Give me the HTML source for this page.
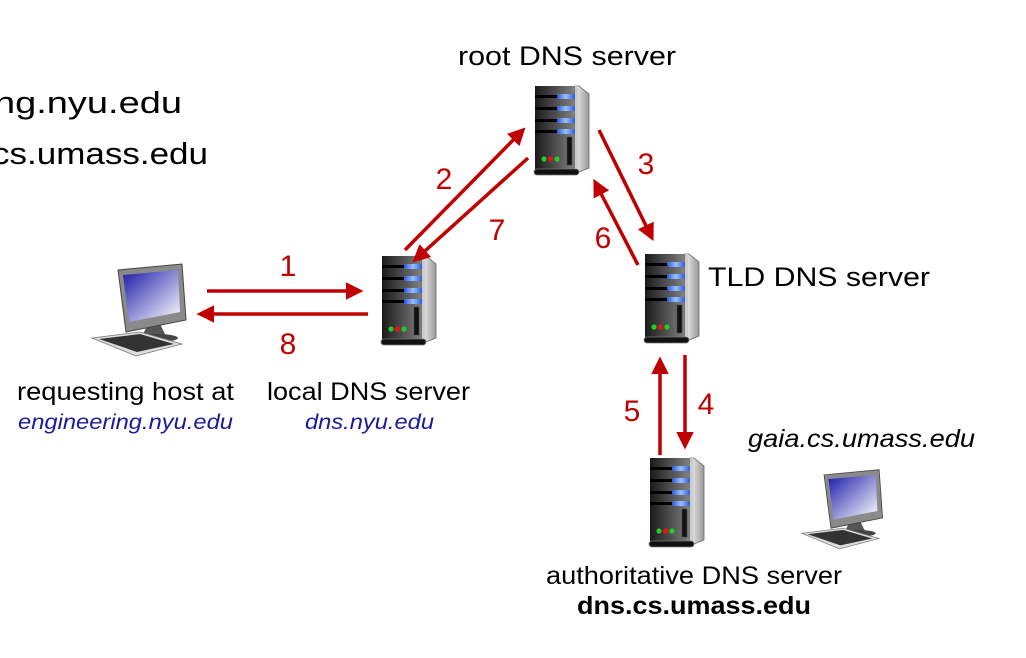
<!DOCTYPE html>
<html><head><meta charset="utf-8"><style>
html,body{margin:0;padding:0;background:#fff;}
svg{display:block;}
text{font-family:"Liberation Sans",Arial,sans-serif;}
</style></head><body>
<svg width="1026" height="658" viewBox="0 0 1026 658" xmlns="http://www.w3.org/2000/svg">
<defs>
<linearGradient id="bd" x1="0" x2="1" y1="0" y2="0"><stop offset="0" stop-color="#1a1a1a"/><stop offset="0.6" stop-color="#5a5a5a"/><stop offset="1" stop-color="#888"/></linearGradient>
<linearGradient id="sd" x1="0" x2="1"><stop offset="0" stop-color="#eee"/><stop offset="1" stop-color="#999"/></linearGradient>
<linearGradient id="bl" x1="0" x2="1"><stop offset="0" stop-color="#2a5bd8"/><stop offset="0.5" stop-color="#9cc0ff"/><stop offset="1" stop-color="#2a5bd8"/></linearGradient>
<linearGradient id="scr" x1="0" y1="0" x2="1" y2="1"><stop offset="0" stop-color="#1a1aa8"/><stop offset="1" stop-color="#fff"/></linearGradient>
<g id="srv">
<rect x="0" y="0" width="42" height="86" fill="url(#bd)"/>
<polygon points="40,0 44,0 54,8 54,82 44,86 40,86" fill="url(#sd)" stroke="#666" stroke-width="0.8"/>
<rect x="40" y="0" width="3" height="86" fill="#ccc"/>
<g fill="#000"><rect x="0" y="9" width="24" height="3"/><rect x="0" y="21" width="24" height="3"/><rect x="0" y="33" width="24" height="3"/><rect x="0" y="44" width="24" height="3"/></g>
<g fill="url(#bl)"><rect x="22" y="8" width="18" height="5" rx="1.5"/><rect x="22" y="20" width="18" height="5" rx="1.5"/><rect x="22" y="32" width="18" height="5" rx="1.5"/><rect x="22" y="43" width="18" height="5" rx="1.5"/></g>
<rect x="32" y="51" width="5" height="28" fill="#111" stroke="#444" stroke-width="0.6"/>
<circle cx="9" cy="73" r="2.6" fill="#2c2"/><circle cx="15.5" cy="73" r="2.6" fill="#e11"/><circle cx="22" cy="73" r="2.6" fill="#2c2"/>
<rect x="-1" y="83" width="45" height="6" rx="3" fill="#111" stroke="#777" stroke-width="0.8"/>
</g>
<g id="pc">
<polygon points="58,62 70,62 76,74 52,74" fill="#555"/>
<polygon points="28,8 92,2 96,58 36,70" fill="#8a8a8a" stroke="#444" stroke-width="1"/>
<polygon points="33,13 88,8 90,50 39,60" fill="url(#scr)"/>
<ellipse cx="66" cy="76" rx="22" ry="4" fill="#444"/>
<polygon points="2,76 50,70 92,82 46,94" fill="#ddd" stroke="#777" stroke-width="0.8"/>
<polygon points="9,77 50,72 84,82 47,90" fill="#333"/>
</g>
<marker id="ah" markerWidth="5" markerHeight="5" refX="4" refY="2.5" orient="auto" markerUnits="strokeWidth"><path d="M0,0 L5,2.5 L0,5 z" fill="#c00000"/></marker>
</defs>

<text x="-6" y="113" font-size="31" textLength="188" lengthAdjust="spacingAndGlyphs">ng.nyu.edu</text>
<text x="-8" y="164" font-size="31" textLength="216" lengthAdjust="spacingAndGlyphs">cs.umass.edu</text>

<text x="458" y="65" font-size="27" textLength="218" lengthAdjust="spacingAndGlyphs">root DNS server</text>
<text x="708" y="286" font-size="27" textLength="222" lengthAdjust="spacingAndGlyphs">TLD DNS server</text>
<text x="17" y="400" font-size="25" textLength="217" lengthAdjust="spacingAndGlyphs">requesting host at</text>
<text x="18" y="429" font-size="21" font-style="italic" fill="#1a1a9a" textLength="215" lengthAdjust="spacingAndGlyphs">engineering.nyu.edu</text>
<text x="267" y="400" font-size="25" textLength="203" lengthAdjust="spacingAndGlyphs">local DNS server</text>
<text x="305" y="429" font-size="21" font-style="italic" fill="#1a1a9a" textLength="129" lengthAdjust="spacingAndGlyphs">dns.nyu.edu</text>
<text x="748" y="447" font-size="25" font-style="italic" textLength="227" lengthAdjust="spacingAndGlyphs">gaia.cs.umass.edu</text>
<text x="546" y="584" font-size="25" textLength="296" lengthAdjust="spacingAndGlyphs">authoritative DNS server</text>
<text x="577" y="614" font-size="25" font-weight="bold" textLength="234" lengthAdjust="spacingAndGlyphs">dns.cs.umass.edu</text>

<use href="#srv" x="382" y="256"/>
<use href="#srv" x="535" y="86"/>
<use href="#srv" x="645" y="254"/>
<use href="#srv" x="650" y="458"/>
<use href="#pc" x="90" y="262"/>
<g transform="translate(800,468) scale(0.86)"><use href="#pc"/></g>

<g stroke="#c00000" stroke-width="3.5" fill="none">
<line x1="207" y1="291" x2="360" y2="291" marker-end="url(#ah)"/>
<line x1="368" y1="314" x2="200" y2="314" marker-end="url(#ah)"/>
<line x1="405" y1="250" x2="523" y2="130" marker-end="url(#ah)"/>
<line x1="528" y1="158" x2="415" y2="260" marker-end="url(#ah)"/>
<line x1="599" y1="130" x2="652" y2="238" marker-end="url(#ah)"/>
<line x1="638" y1="265" x2="595" y2="182" marker-end="url(#ah)"/>
<line x1="660" y1="455" x2="660" y2="360" marker-end="url(#ah)"/>
<line x1="685" y1="355" x2="685" y2="446" marker-end="url(#ah)"/>
</g>
<g fill="#c00000" font-size="30">
<text x="288" y="276" text-anchor="middle">1</text>
<text x="288" y="354" text-anchor="middle">8</text>
<text x="444" y="189" text-anchor="middle">2</text>
<text x="497" y="240" text-anchor="middle">7</text>
<text x="646" y="174" text-anchor="middle">3</text>
<text x="603" y="248" text-anchor="middle">6</text>
<text x="632" y="421" text-anchor="middle">5</text>
<text x="706" y="414" text-anchor="middle">4</text>
</g>
</svg>
</body></html>
